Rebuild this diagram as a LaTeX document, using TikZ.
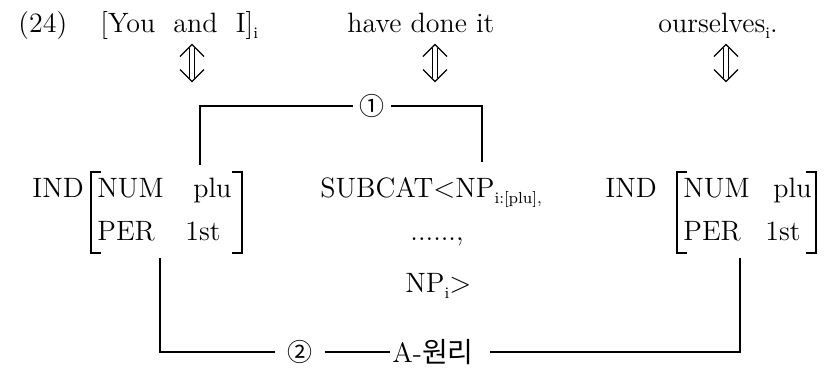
\documentclass[tikz,border=0pt]{standalone}
\usepackage{fontspec}
\newfontfamily\cjk{Noto Sans CJK KR}
\begin{document}
\begin{tikzpicture}[x=0.5pt,y=-0.5pt,
  every node/.style={font=\fontsize{14}{16}\selectfont, inner sep=0pt},
  txt/.style={anchor=base west},
  conn/.style={line width=0.65pt},
  brk/.style={line width=0.8pt},
  circnum/.style={fill=white, inner sep=3pt, font=\cjk\fontsize{12.5}{14}\selectfont},
  updown/.pic={
    \draw[line width=0.6pt] (-2.5,-15) -- (-2.5,15);
    \draw[line width=0.6pt] (2.5,-15) -- (2.5,15);
    \draw[line width=0.6pt] (-12,-6.5) -- (0,-18.5) -- (12,-6.5);
    \draw[line width=0.6pt] (-12,6.5) -- (0,18.5) -- (12,6.5);
  }]
\useasboundingbox (0,0) rectangle (826,371);
\newcommand\sub[1]{\raisebox{-3pt}{\fontsize{8}{8}\selectfont #1}}
% top row
\node[txt] (n24) at (18,32) {(24)};
\node[txt] (you) at (100,32) {[You\hspace{0.65em}and\hspace{0.65em}I]\sub{i}};
\node[txt] (have) at (347,32) {have done it};
\node[txt] (ours) at (658,32) {ourselves\sub{i}.};
\pic at (192,63) {updown};
\pic at (435,63) {updown};
\pic at (726,63) {updown};
% left AVM
\node[txt] (ind1) at (32,197) {IND};
\node[txt] (num1) at (97,197) {NUM};
\node[txt] (plu1) at (193,197) {plu};
\node[txt] (per1) at (97,240) {PER};
\node[txt] (fst1) at (185,240) {1st};
\draw[brk] (101,172) -- (91,172) -- (91,253) -- (101,253);
\draw[brk] (232,172) -- (242,172) -- (242,253) -- (232,253);
% middle
\node[txt] (subcat) at (320,197) {SUBCAT$<$NP\sub{i:[plu],}};
\node[txt] (dots) at (410,240) {......,};
\node[txt] (npi) at (405,292) {NP\sub{i}$>$};
% right AVM
\node[txt] (ind2) at (605,197) {IND};
\node[txt] (num2) at (683,197) {NUM};
\node[txt] (plu2) at (773,197) {plu};
\node[txt] (per2) at (683,240) {PER};
\node[txt] (fst2) at (765,240) {1st};
\draw[brk] (687,172) -- (677,172) -- (677,253) -- (687,253);
\draw[brk] (806,172) -- (816,172) -- (816,253) -- (806,253);
% connector 1
\coordinate (c1a) at (200,165);
\coordinate (c1b) at (482,162);
\node[circnum] (one) at (372,106) {①};
\draw[conn] (c1a) |- (one);
\draw[conn] (one) -| (c1b);
% connector 2
\coordinate (c2a) at (160,258);
\coordinate (c2b) at (740,258);
\node[circnum, inner sep=6pt] (two) at (300,352) {②};
\node[fill=white, inner sep=1pt, font=\fontsize{14}{16}\selectfont] (aw) at (440,352) {A-{\cjk 원리}\kern7pt\null};
\draw[conn] (c2a) |- (two);
\draw[conn] (two) -- (aw);
\draw[conn] (aw) -| (c2b);
\end{tikzpicture}
\end{document}
